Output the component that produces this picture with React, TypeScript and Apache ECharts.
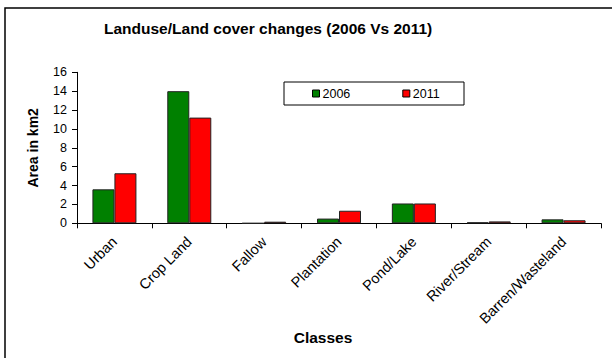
import React, { useEffect, useRef } from "react";
import * as echarts from "echarts";

const categories = ["Urban", "Crop Land", "Fallow", "Plantation", "Pond/Lake", "River/Stream", "Barren/Wasteland"];
const values2006 = [3.6, 14.0, 0, 0.5, 2.1, 0.1, 0.42];
const values2011 = [5.3, 11.2, 0.17, 1.33, 2.1, 0.2, 0.32];
const seriesNames = ["2006", "2011"];
const yTicks = { min: 0, max: 16, interval: 2 };

const FONT = "'Liberation Sans', Arial, sans-serif";

export default function App() {
  const ref = useRef<HTMLDivElement>(null);
  useEffect(() => {
    if (!ref.current) return;
    const chart = echarts.init(ref.current, undefined, { renderer: "svg" });
    chart.setOption({
      animation: false,
      backgroundColor: "#fff",
      textStyle: { fontFamily: FONT, color: "#000" },
      title: {
        text: "Landuse/Land cover changes (2006 Vs 2011)",
        left: 104,
        top: 20,
        padding: 0,
        textStyle: { fontFamily: FONT, fontSize: 15.5, fontWeight: "bold", color: "#000" },
      },
      legend: {
        data: seriesNames,
        left: 312,
        top: 87,
        padding: 0,
        itemWidth: 7,
        itemHeight: 7,
        itemGap: 52,
        icon: "rect",
        textStyle: { fontFamily: FONT, fontSize: 12.5, color: "#000", padding: [0, 0, 0, -2] },
        itemStyle: { borderColor: "#000", borderWidth: 1 },
      },
      graphic: [
        {
          type: "rect",
          shape: { x: 5, y: 8, width: 640, height: 400 },
          style: { fill: "none", stroke: "#000", lineWidth: 1.5 },
          silent: true,
        },
        {
          type: "rect",
          shape: { x: 284, y: 82, width: 180, height: 23 },
          style: { fill: "none", stroke: "#000", lineWidth: 1 },
          silent: true,
        },
        {
          type: "text",
          x: 323,
          y: 337,
          style: {
            text: "Classes",
            font: "bold 15.5px " + FONT,
            fill: "#000",
            align: "center",
            verticalAlign: "middle",
          },
          silent: true,
        },
      ],
      grid: { left: 77, right: 11, top: 72.3, bottom: 134.7, containLabel: false },
      xAxis: {
        type: "category",
        data: categories,
        axisLine: { show: true, lineStyle: { color: "#000", width: 1 } },
        axisTick: { show: true, length: 5, lineStyle: { color: "#000" } },
        axisLabel: { rotate: 45, fontSize: 14.5, color: "#000", fontFamily: FONT, margin: 16, interval: 0 },
      },
      yAxis: {
        type: "value",
        min: yTicks.min,
        max: yTicks.max,
        interval: yTicks.interval,
        name: "Area in km2",
        nameLocation: "middle",
        nameGap: 37,
        nameTextStyle: { fontFamily: FONT, fontSize: 14, fontWeight: "bold", color: "#000" },
        axisLine: { show: true, lineStyle: { color: "#000", width: 1 } },
        axisTick: { show: true, length: 5, lineStyle: { color: "#000" } },
        axisLabel: { fontSize: 12.5, color: "#000", fontFamily: FONT, margin: 10 },
        splitLine: { show: false },
      },
      series: [
        {
          name: seriesNames[0],
          type: "bar",
          data: values2006,
          barWidth: 22,
          barGap: "0%",
          itemStyle: { color: "#008000", borderColor: "#222", borderWidth: 1 },
        },
        {
          name: seriesNames[1],
          type: "bar",
          data: values2011,
          barWidth: 22,
          barGap: "0%",
          itemStyle: { color: "#ff0000", borderColor: "#222", borderWidth: 1 },
        },
      ],
    });
    return () => chart.dispose();
  }, []);
  return (
    <div
      ref={ref}
      style={{ position: "fixed", left: 0, top: 0, width: 612, height: 358 }}
    />
  );
}
